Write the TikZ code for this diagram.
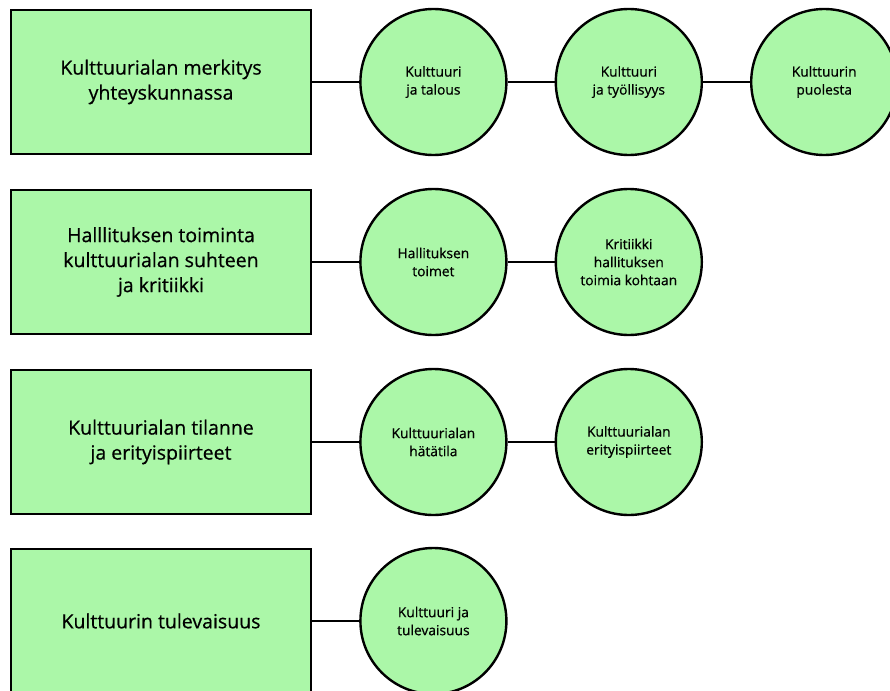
\documentclass[tikz,border=0pt]{standalone}
\usepackage{fontspec}
\setmainfont{Open Sans}[UprightFeatures={FakeBold=0.6}]
\usetikzlibrary{positioning}

\definecolor{vihrea}{RGB}{171,247,168}

\begin{document}
\begin{tikzpicture}[x=1pt, y=-1pt,
		aihe/.style={draw, line width=2.4pt, fill=vihrea, minimum width=300pt, minimum height=144pt,
			align=center, font=\fontsize{19.5}{25}\selectfont},
		ala/.style={draw, circle, line width=2.4pt, fill=vihrea, minimum size=146pt, inner sep=0pt,
			align=center, font=\fontsize{13.8}{18}\selectfont},
		yhteys/.style={line width=2pt},
		node distance=47pt]
				% Kuvan rajat
				\useasboundingbox (0,0) rectangle (890,690);
				
				% Pääaiheet
				\node[aihe] (A1) at (161,82) {Kulttuurialan merkitys\\yhteyskunnassa};
				\node[aihe] (A2) at (161,262) {Halllituksen toiminta\\kulttuurialan suhteen\\ja kritiikki};
				\node[aihe] (A3) at (161,442) {Kulttuurialan tilanne\\ja erityispiirteet};
				\node[aihe] (A4) at (161,621) {Kulttuurin tulevaisuus};
				
				% Alateemat
				\node[ala, right=of A1] (B11) {Kulttuuri\\ja talous};
				\node[ala, right=of B11] (B12) {Kulttuuri\\ja työllisyys};
				\node[ala, right=of B12] (B13) {Kulttuurin\\puolesta};
				\node[ala, right=of A2] (B21) {Hallituksen\\toimet};
				\node[ala, right=of B21] (B22) {Kritiikki\\hallituksen\\toimia kohtaan};
				\node[ala, right=of A3] (B31) {Kulttuurialan\\hätätila};
				\node[ala, right=of B31] (B32) {Kulttuurialan\\erityispiirteet};
				\node[ala, right=of A4] (B41) {Kulttuuri ja\\tulevaisuus};
				
				% Yhteydet
				\draw[yhteys] (A1) -- (B11) -- (B12) -- (B13);
				\draw[yhteys] (A2) -- (B21) -- (B22);
				\draw[yhteys] (A3) -- (B31) -- (B32);
				\draw[yhteys] (A4) -- (B41);
			\end{tikzpicture}
\end{document}
